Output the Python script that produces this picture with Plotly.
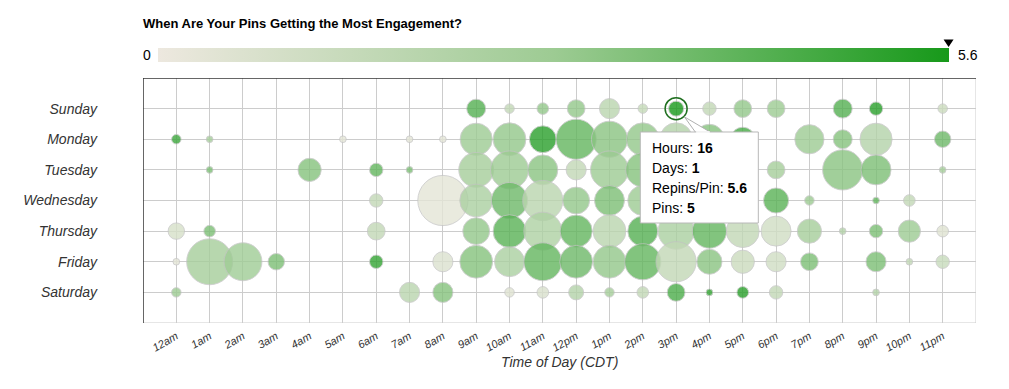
import plotly.graph_objects as go

# ---------------- data ----------------
days = ["Sunday", "Monday", "Tuesday", "Wednesday", "Thursday", "Friday", "Saturday"]
hour_labels = ["12am", "1am", "2am", "3am", "4am", "5am", "6am", "7am", "8am", "9am",
               "10am", "11am", "12pm", "1pm", "2pm", "3pm", "4pm", "5pm", "6pm", "7pm",
               "8pm", "9pm", "10pm", "11pm"]

# (hour index, pins, repins per pin) for each day
sunday = [(9, 8, 4.3), (10, 2, 1.5), (11, 3, 3.0), (12, 7, 3.0), (13, 9, 1.8), (14, 2, 1.4),
          (15, 5, 5.6), (16, 4, 1.5), (17, 7, 3.0), (18, 7, 2.8), (20, 8, 4.3), (21, 4, 5.2),
          (23, 2, 1.2)]
monday = [(0, 2, 4.8), (1, 1, 2.5), (5, 1, 0.3), (7, 1, 0.3), (8, 1, 0.3), (9, 23, 2.8),
          (10, 24, 3.0), (11, 16, 5.2), (12, 36, 4.0), (13, 29, 3.2), (14, 24, 3.0),
          (15, 24, 2.0), (16, 20, 3.3), (17, 13, 4.6), (19, 19, 2.8), (20, 8, 3.3),
          (21, 23, 2.0), (23, 6, 3.8)]
tuesday = [(1, 1, 3.5), (4, 12, 3.3), (6, 4, 4.0), (7, 1, 3.5), (9, 27, 2.5), (10, 32, 2.8),
           (11, 20, 3.2), (12, 9, 1.5), (13, 32, 2.8), (14, 26, 3.3), (15, 20, 2.5),
           (16, 15, 3.0), (17, 9, 2.5), (18, 7, 2.5), (20, 36, 3.2), (21, 20, 3.5),
           (23, 1, 2.5)]
wednesday = [(6, 4, 1.5), (8, 56, 0.3), (9, 24, 2.3), (10, 29, 3.8), (11, 36, 1.8),
             (12, 16, 3.0), (13, 20, 3.5), (14, 20, 2.8), (15, 20, 3.0), (16, 17, 2.7),
             (17, 11, 3.2), (18, 14, 4.2), (19, 2, 2.8), (21, 1, 4.0), (22, 3, 1.5)]
thursday = [(0, 6, 0.8), (1, 3, 3.5), (6, 7, 1.5), (9, 16, 3.0), (10, 24, 4.2), (11, 32, 2.2),
            (12, 23, 4.0), (13, 24, 1.8), (14, 20, 4.3), (15, 29, 2.3), (16, 26, 4.0),
            (17, 24, 1.5), (18, 20, 1.0), (19, 13, 2.5), (20, 1, 2.0), (21, 4, 3.5),
            (22, 11, 2.8), (23, 3, 0.5)]
friday = [(0, 1, 0.3), (1, 47, 2.5), (2, 32, 2.7), (3, 6, 3.5), (6, 4, 5.0), (8, 9, 0.6),
          (9, 24, 3.3), (10, 20, 2.3), (11, 32, 4.0), (12, 24, 3.8), (13, 24, 3.0),
          (14, 29, 4.0), (15, 36, 1.5), (16, 14, 3.2), (17, 12, 1.2), (18, 9, 1.0),
          (19, 7, 3.5), (21, 9, 3.5), (22, 1, 1.5), (23, 4, 1.3)]
saturday = [(0, 2, 2.8), (7, 9, 1.8), (8, 9, 3.3), (10, 2, 0.5), (11, 3, 0.7), (12, 5, 2.0),
            (13, 2, 2.5), (14, 3, 1.5), (15, 7, 4.5), (16, 1, 5.0), (17, 3, 5.2), (18, 4, 1.5),
            (21, 1, 2.0)]

day_rows = [sunday, monday, tuesday, wednesday, thursday, friday, saturday]
max_rpp = 5.6
hovered = (15, 0, 5.6, 5)  # hour idx, day idx, repins/pin, pins

# ---------------- build ----------------
xs, ys, pins, rpp = [], [], [], []
for d, row in enumerate(day_rows):
    for h, p, r in row:
        xs.append(h)
        ys.append(d)
        pins.append(p)
        rpp.append(r)

colorscale = [[0, "#ede8df"], [0.5, "#9dcb93"], [1, "#17991a"]]
FONT = "Liberation Sans, Arial, Helvetica, sans-serif"

fig = go.Figure()
fig.add_trace(go.Scatter(
    x=xs, y=ys, mode="markers",
    marker=dict(
        size=pins, sizemode="area", sizeref=1 / 22.5,
        color=rpp, cmin=0, cmax=max_rpp, colorscale=colorscale,
        opacity=0.8,
        line=dict(color="rgba(195,195,195,0.9)", width=1),
        colorbar=dict(
            orientation="h", x=0.4926, xanchor="center", y=1.0665, yanchor="bottom",
            len=0.949, lenmode="fraction", thickness=14, outlinewidth=0,
            showticklabels=False, ticks="", xpad=0, ypad=0,
        ),
    ),
    hoverinfo="skip", showlegend=False,
))

# hovered ring
fig.add_trace(go.Scatter(
    x=[hovered[0]], y=[hovered[1]], mode="markers",
    marker=dict(size=22, color="rgba(0,0,0,0)", line=dict(color="#1f6f1f", width=1.5)),
    hoverinfo="skip", showlegend=False,
))

x0, x1 = -1, 24
y0, y1 = -1, 7
shapes = [
    dict(type="line", xref="x", yref="y", x0=x1, x1=x1, y0=y0, y1=y1, line=dict(color="#cccccc", width=1)),
    dict(type="line", xref="x", yref="y", x0=x0, x1=x1, y0=y1, y1=y1, line=dict(color="#cccccc", width=1)),
    dict(type="line", xref="x", yref="y", x0=x0, x1=x0, y0=y0, y1=y1, line=dict(color="#333333", width=1.5)),
    dict(type="line", xref="x", yref="y", x0=x0, x1=x1, y0=y0, y1=y0, line=dict(color="#333333", width=1.5)),
]

# tooltip: pointer wedge + box
shapes.append(dict(
    type="path", xref="x", yref="y", layer="above",
    path="M 15.25 0.27 L 15.58 0.77 L 16.03 0.77 Z",
    fillcolor="white", line=dict(color="#b0b0b0", width=1),
))
shapes.append(dict(
    type="rect", xref="x", yref="y", layer="above",
    x0=13.925, x1=17.467, y0=0.763, y1=3.735,
    fillcolor="white", line=dict(color="#b8b8b8", width=1),
))
shapes.append(dict(
    type="line", xref="x", yref="y", layer="above",
    x0=15.60, x1=16.01, y0=0.763, y1=0.763,
    line=dict(color="white", width=1.5),
))

# colorbar value marker (triangle above the bar end)
cb_left, cb_right = 0.4926 - 0.949 / 2, 0.4926 + 0.949 / 2
tx = cb_left + (cb_right - cb_left) * hovered[2] / max_rpp
shapes.append(dict(
    type="path", xref="paper", yref="paper",
    path=f"M {tx-0.006} 1.157 L {tx+0.006} 1.157 L {tx} 1.127 Z",
    fillcolor="black", line=dict(width=0),
))

tip_lines = [f"Hours: <b>{hovered[0] + 1}</b>", f"Days: <b>{hovered[1] + 1}</b>",
             f"Repins/Pin: <b>{hovered[2]}</b>", f"Pins: <b>{hovered[3]}</b>"]
tip_y = [1.294, 1.947, 2.600, 3.233]

annotations = [
    dict(text="0", xref="paper", yref="paper", x=cb_left - 0.006, y=1.095, xanchor="right",
         yanchor="middle", showarrow=False, font=dict(family=FONT, size=14, color="black")),
    dict(text=f"{max_rpp}", xref="paper", yref="paper", x=cb_right + 0.009, y=1.095, xanchor="left",
         yanchor="middle", showarrow=False, font=dict(family=FONT, size=14, color="black")),
    dict(text="Time of Day (CDT)", xref="paper", yref="paper", x=0.5, y=-0.159,
         xanchor="center", yanchor="middle", showarrow=False,
         font=dict(family=FONT, size=14, color="#333333", style="italic")),
]
for t, ty in zip(tip_lines, tip_y):
    annotations.append(dict(
        text=t, xref="x", yref="y", x=14.22, y=ty, xanchor="left", yanchor="middle",
        showarrow=False, font=dict(family=FONT, size=14, color="black"),
    ))

fig.update_layout(
    width=1009, height=389,
    margin=dict(l=143, r=33, t=78, b=66, autoexpand=False),
    paper_bgcolor="white", plot_bgcolor="white",
    title=dict(text="<b>When Are Your Pins Getting the Most Engagement?</b>",
               x=143 / 1009, xanchor="left", xref="container",
               y=1 - 30 / 389, yanchor="middle", yref="container",
               font=dict(family=FONT, size=13, color="black")),
    xaxis=dict(
        range=[x0, x1], tickvals=list(range(24)), ticktext=hour_labels,
        tickangle=-30, showgrid=True, gridcolor="#cccccc", gridwidth=1,
        zeroline=False, showline=False, ticks="", automargin=False,
        ticklabelstandoff=4,
        tickfont=dict(family=FONT, size=11, color="#333333", style="italic"),
    ),
    yaxis=dict(
        range=[y1, y0], tickvals=list(range(7)), ticktext=days,
        showgrid=True, gridcolor="#cccccc", gridwidth=1, zeroline=False,
        showline=False, ticks="", ticklabelstandoff=45, automargin=False,
        tickfont=dict(family=FONT, size=14, color="#333333", style="italic"),
    ),
    shapes=shapes, annotations=annotations,
)

fig.write_html("out.html", config={"displayModeBar": False},
               post_script="document.body.style.margin='0';")
